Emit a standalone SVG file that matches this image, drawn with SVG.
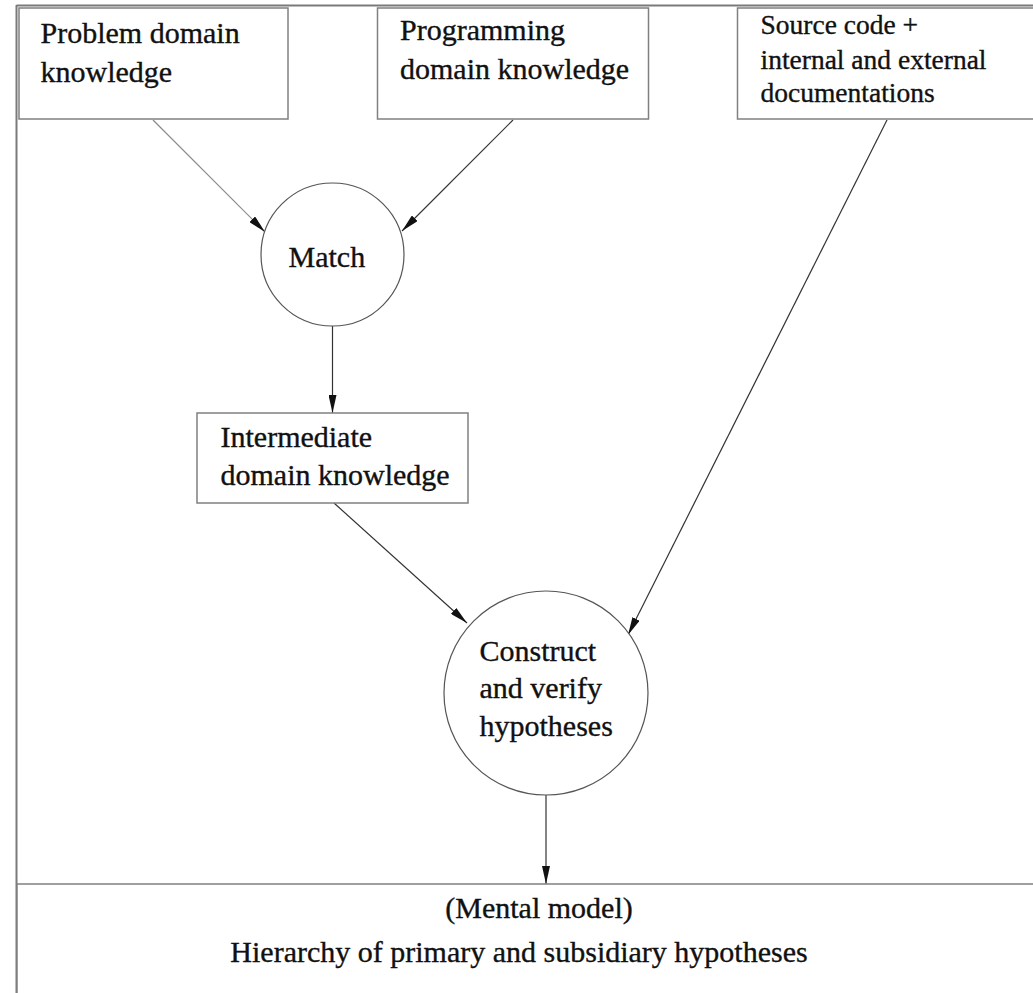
<svg xmlns="http://www.w3.org/2000/svg" width="1033" height="993" viewBox="0 0 1033 993">
<style>
  .frame { fill: none; stroke: #7a7a7a; stroke-width: 2; }
  .box { fill: #ffffff; stroke: #808080; stroke-width: 1.5; }
  .circ { fill: #ffffff; stroke: #555555; stroke-width: 1.2; }
  .t { font-family: "Liberation Serif", "Times New Roman", serif; font-size: 30px; fill: #111111; stroke: #111111; stroke-width: 0.35; }
  .ts { font-size: 27.5px; }
  .mid { text-anchor: middle; }
  .edge { fill: none; stroke: #333333; stroke-width: 1.2; marker-end: url(#arr); }
  .light { stroke: #8a8a8a; }
</style>
<defs>
  <marker id="arr" markerUnits="userSpaceOnUse" markerWidth="18" markerHeight="8" refX="18" refY="4" orient="auto">
    <path d="M0,0 L18,4 L0,8 z" fill="#111111"/>
  </marker>
</defs>
<rect width="1033" height="993" fill="#ffffff"/>
<g id="frame">
  <line class="frame" x1="16.5" y1="5.5" x2="1033" y2="5.5"/>
  <line class="frame" x1="16.5" y1="5" x2="16.5" y2="993"/>
</g>
<g id="connectors">
  <line class="edge light" x1="153" y1="120" x2="265" y2="232"/>
  <line class="edge" x1="513" y1="120" x2="402" y2="231"/>
  <line class="edge" x1="332.5" y1="326" x2="332.5" y2="413"/>
  <line class="edge" x1="334" y1="503" x2="467" y2="623"/>
  <line class="edge" x1="887" y1="120" x2="628" y2="635"/>
  <line class="edge" x1="546" y1="795" x2="546" y2="884"/>
</g>
<g id="problem">
  <rect class="box" x="19" y="8" width="269" height="111"/>
  <text class="t" x="40.5" y="42.5">Problem domain</text>
  <text class="t" x="40.5" y="81.5">knowledge</text>
</g>
<g id="programming">
  <rect class="box" x="377.5" y="8" width="271" height="111"/>
  <text class="t" x="400" y="40">Programming</text>
  <text class="t" x="400" y="78.5">domain knowledge</text>
</g>
<g id="source">
  <rect class="box" x="737.5" y="8" width="300" height="111"/>
  <text class="t ts" x="760.5" y="33.5">Source code +</text>
  <text class="t ts" x="760.5" y="68.5">internal and external</text>
  <text class="t ts" x="760.5" y="102">documentations</text>
</g>
<g id="match">
  <circle class="circ" cx="332.5" cy="254.5" r="71.5"/>
  <text class="t" x="288.5" y="266.5">Match</text>
</g>
<g id="intermediate">
  <rect class="box" x="197" y="413" width="271" height="90"/>
  <text class="t" x="220.5" y="447">Intermediate</text>
  <text class="t" x="220.5" y="485">domain knowledge</text>
</g>
<g id="construct">
  <circle class="circ" cx="546" cy="693" r="102"/>
  <text class="t" x="479.5" y="660.5">Construct</text>
  <text class="t" x="479.5" y="698">and verify</text>
  <text class="t" x="479.5" y="736">hypotheses</text>
</g>
<g id="mental-model">
  <rect class="box" x="17" y="884" width="1030" height="120"/>
  <text class="t mid" x="539" y="918">(Mental model)</text>
  <text class="t mid" x="519" y="961.5">Hierarchy of primary and subsidiary hypotheses</text>
</g>
</svg>
